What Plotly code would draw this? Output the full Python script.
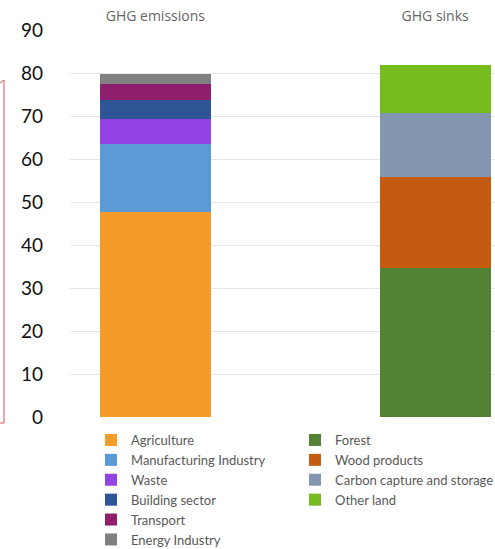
import plotly.graph_objects as go

categories = ["GHG emissions", "GHG sinks"]

emission_sectors = ["Agriculture", "Manufacturing Industry", "Waste",
                    "Building sector", "Transport", "Energy Industry"]
emission_values = [47.7, 15.8, 5.8, 4.4, 3.7, 2.4]
emission_colors = ["#F39C2B", "#5B9BD5", "#9343E3", "#2F5597", "#8E1F6F", "#808080"]

sink_sectors = ["Forest", "Wood products", "Carbon capture and storage", "Other land"]
sink_values = [34.7, 21.2, 14.8, 11.2]
sink_colors = ["#548235", "#C55A11", "#8497B0", "#77BC1F"]

y_ticks = list(range(0, 100, 10))

W, H = 495, 549
L, R, T, B = 70, 0, 30, 132
pw, ph = W - L - R, H - T - B

fig = go.Figure()
for name, val, col in zip(emission_sectors, emission_values, emission_colors):
    fig.add_trace(go.Bar(x=[categories[0]], y=[val], name=name,
                         marker=dict(color=col, line=dict(width=0)),
                         width=0.397, legend="legend"))
for name, val, col in zip(sink_sectors, sink_values, sink_colors):
    fig.add_trace(go.Bar(x=[categories[1]], y=[val], name=name,
                         marker=dict(color=col, line=dict(width=0)),
                         width=0.397, legend="legend2"))

def px2paper_x(px):
    return (px - L) / pw

def px2paper_y(py):
    return (H - B - py) / ph

path = "M {} {} L {} {} L {} {} L {} {}".format(
    px2paper_x(-1), px2paper_y(84), px2paper_x(4), px2paper_y(80),
    px2paper_x(4), px2paper_y(423), px2paper_x(-1), px2paper_y(423))

legend_common = dict(orientation="v", font=dict(family="Lato", size=13, color="#595959"),
                     bgcolor="rgba(0,0,0,0)", itemwidth=30, traceorder="normal",
                     xref="container", yref="container", xanchor="left", yanchor="top",
                     itemclick=False, itemdoubleclick=False)

fig.update_layout(
    width=W, height=H,
    margin=dict(l=L, r=R, t=T, b=B, pad=0, autoexpand=False),
    paper_bgcolor="white", plot_bgcolor="white",
    barmode="stack", bargap=0,
    font=dict(family="Lato", color="#595959"),
    xaxis=dict(type="category", categoryorder="array", categoryarray=categories,
               range=[-0.305, 1.214], side="top", showgrid=False, zeroline=False,
               showline=False, ticks="", tickfont=dict(family="Open Sans", size=14, color="#666666"),
               ticklabelstandoff=5, fixedrange=True, automargin=False),
    yaxis=dict(range=[0, 90], tickvals=y_ticks, showgrid=True, gridcolor="#E6E6E6",
               gridwidth=1, zeroline=False, showline=False, ticks="",
               tickfont=dict(family="Lato", size=19, color="#111111"),
               ticklabelstandoff=26, fixedrange=True, automargin=False),
    legend=dict(x=91 / W, y=1 - 425 / H, **legend_common),
    legend2=dict(x=295 / W, y=1 - 425 / H, **legend_common),
    shapes=[dict(type="path", xref="paper", yref="paper", path=path,
                 line=dict(color="#D9535F", width=1))],
    showlegend=True,
)

fig.write_html("out.html")
